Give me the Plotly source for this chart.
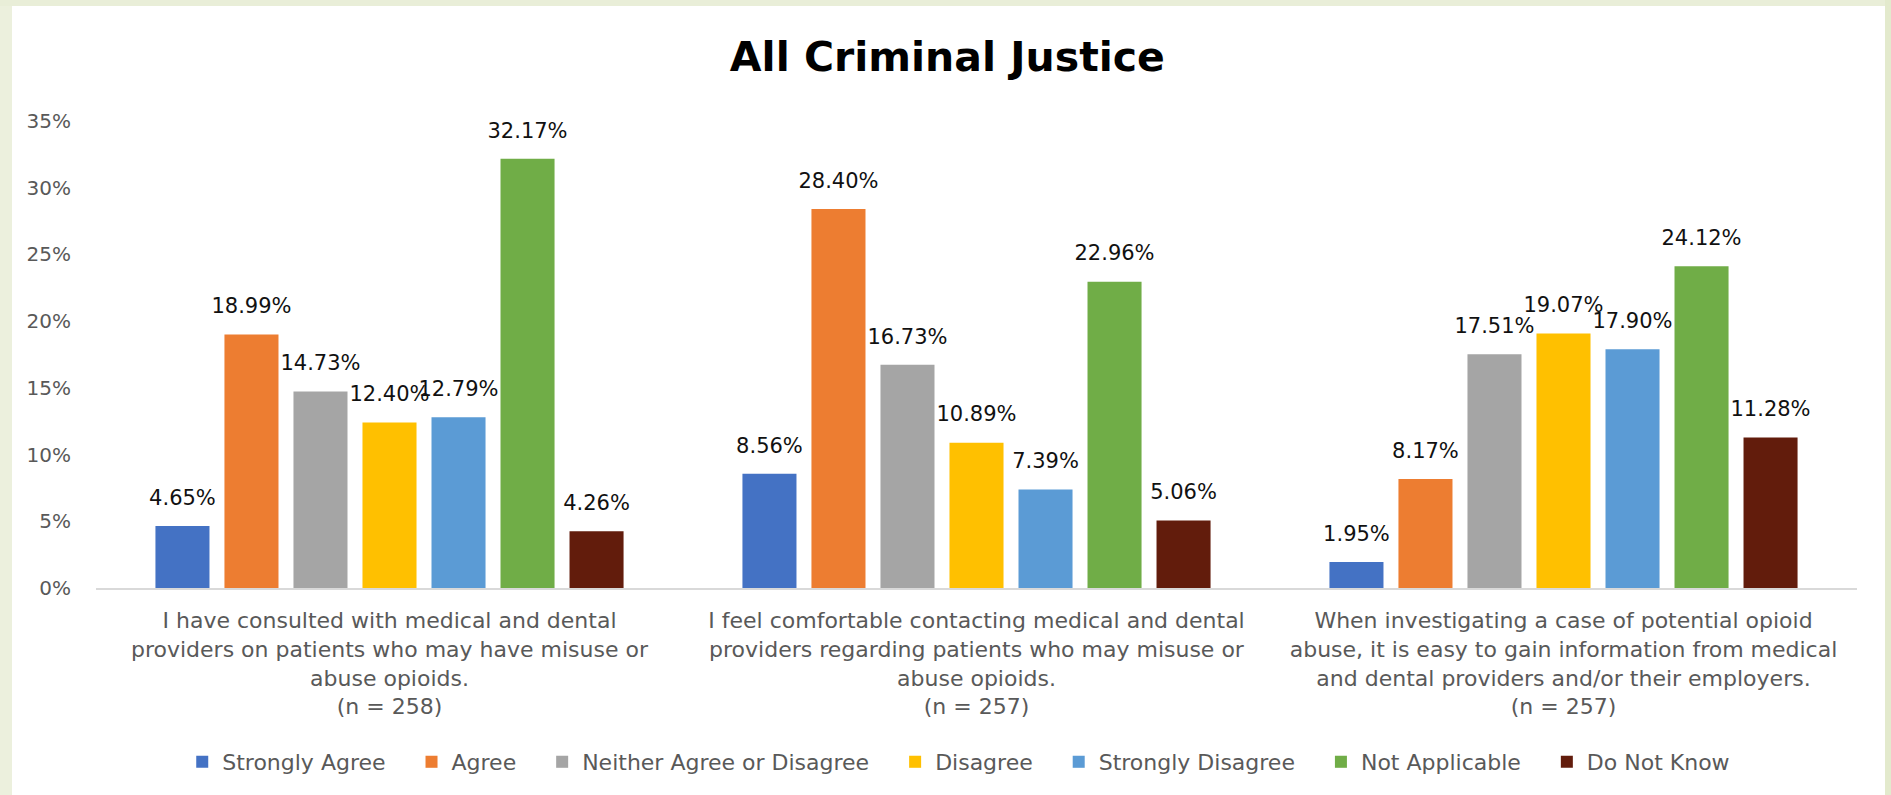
import plotly.graph_objects as go

# ---- data ----
categories = [
    "I have consulted with medical and dental<br>providers on patients who may have misuse or<br>abuse opioids.<br>(n = 258)",
    "I feel comfortable contacting medical and dental<br>providers regarding patients who may misuse or<br>abuse opioids.<br>(n = 257)",
    "When investigating a case of potential opioid<br>abuse, it is easy to gain information from medical<br>and dental providers and/or their employers.<br>(n = 257)",
]
series_names = ["Strongly Agree", "Agree", "Neither Agree or Disagree", "Disagree",
                "Strongly Disagree", "Not Applicable", "Do Not Know"]
strongly_agree = [0.0465, 0.0856, 0.0195]
agree = [0.1899, 0.2840, 0.0817]
neither = [0.1473, 0.1673, 0.1751]
disagree = [0.1240, 0.1089, 0.1907]
strongly_disagree = [0.1279, 0.0739, 0.1790]
not_applicable = [0.3217, 0.2296, 0.2412]
do_not_know = [0.0426, 0.0506, 0.1128]
series_values = [strongly_agree, agree, neither, disagree, strongly_disagree, not_applicable, do_not_know]
colors = ["#4472C4", "#ED7D31", "#A5A5A5", "#FFC000", "#5B9BD5", "#70AD47", "#621C0C"]

FONT = "DejaVu Sans"
W, H = 1891, 795
ML, MR, MT, MB = 96, 34, 121, 207
PAD = "\u00a0" * 3
BARGAP = 0.177

fig = go.Figure()
for i, (name, vals, col) in enumerate(zip(series_names, series_values, colors)):
    legend_name = name + (PAD if i < len(series_names) - 1 else "")
    fig.add_trace(go.Bar(
        x=categories, y=vals, name=legend_name, marker_color=col, marker_line_width=0,
        offsetgroup=str(i), cliponaxis=False,
    ))
for i, (name, vals) in enumerate(zip(series_names, series_values)):
    fig.add_trace(go.Scatter(
        x=categories, y=vals, mode="markers+text", showlegend=False,
        offsetgroup=str(i), hoverinfo="skip",
        marker=dict(size=24, color="rgba(0,0,0,0)"),
        text=vals, texttemplate="%{y:.2%}", textposition="top center",
        textfont=dict(family=FONT, size=21, color="#111111"),
        cliponaxis=False,
    ))

pw = W - ML - MR
ph = H - MT - MB
def px_x(p):
    return (p - ML) / pw
def px_y(p):
    return 1 - (p - MT) / ph

shapes = [
    dict(type="rect", xref="paper", yref="paper", x0=px_x(0), x1=px_x(12), y0=px_y(H), y1=px_y(0),
         fillcolor="#ECF0DD", line_width=0, layer="below"),
    dict(type="rect", xref="paper", yref="paper", x0=px_x(0), x1=px_x(W), y0=px_y(6), y1=px_y(0),
         fillcolor="#E9EED8", line_width=0, layer="below"),
    dict(type="rect", xref="paper", yref="paper", x0=px_x(1885), x1=px_x(W), y0=px_y(H), y1=px_y(0),
         fillcolor="#E3EACD", line_width=0, layer="below"),
]

fig.update_layout(
    width=W, height=H,
    margin=dict(l=ML, r=MR, t=MT, b=MB, autoexpand=False),
    paper_bgcolor="white", plot_bgcolor="white",
    barmode="group", bargap=BARGAP, bargroupgap=0.217,
    scattermode="group", scattergap=BARGAP,
    title=dict(text="<b>All Criminal Justice</b>", x=0.501, xanchor="center",
               y=1 - 57 / H, yanchor="middle", yref="container",
               font=dict(family=FONT, size=41, color="#000000")),
    font=dict(family=FONT, color="#595959"),
    showlegend=True,
    legend=dict(orientation="h", x=0.507, xanchor="center", xref="container",
                y=1 - 762 / H, yanchor="middle", yref="container",
                font=dict(family=FONT, size=22, color="#595959"),
                traceorder="normal", itemwidth=30),
    shapes=shapes,
    xaxis=dict(showline=True, linecolor="#D9D9D9", linewidth=2, showgrid=False,
               ticks="outside", ticklen=12, tickcolor="rgba(0,0,0,0)",
               tickfont=dict(family=FONT, size=22, color="#595959"), zeroline=False),
    yaxis=dict(range=[0, 0.35], dtick=0.05, tickformat=".0%", showgrid=False,
               showline=False, zeroline=False, ticks="outside", ticklen=20,
               tickcolor="rgba(0,0,0,0)",
               tickfont=dict(family=FONT, size=20, color="#595959")),
)

fig.write_html("out.html", config={"displayModeBar": False},
               post_script="document.body.style.margin='0';")
